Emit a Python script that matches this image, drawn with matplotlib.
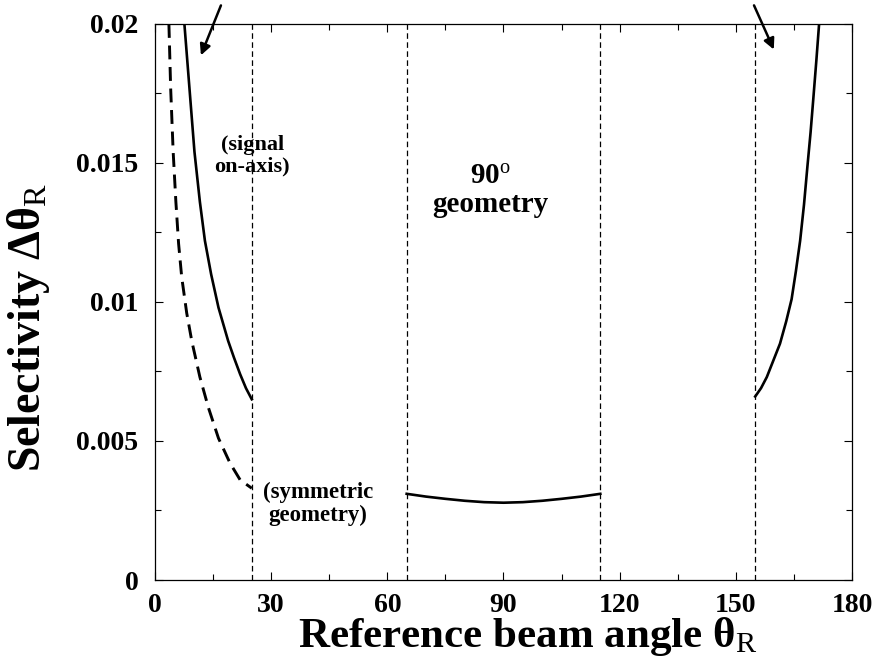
import matplotlib
matplotlib.use("Agg")
import matplotlib.pyplot as plt

plt.rcParams['font.family'] = ['Liberation Serif', 'DejaVu Serif']
plt.rcParams['font.weight'] = 'bold'
plt.rcParams['mathtext.fontset'] = 'custom'
plt.rcParams['mathtext.rm'] = 'Liberation Serif:weight=normal'
plt.rcParams['mathtext.it'] = 'Liberation Serif:italic:weight=normal'
plt.rcParams['mathtext.bf'] = 'Liberation Serif:bold'
plt.rcParams['lines.scale_dashes'] = False

# Signal on-axis geometry, low-angle branch
on_axis_x = [7.6, 8.9, 10.2, 11.6, 12.9, 14.5, 16.4, 18.9, 20.4, 22.0, 23.5, 25.0]
on_axis_y = [0.0200, 0.0177, 0.0154, 0.0136, 0.0122, 0.0110, 0.0098, 0.0086,
             0.0080, 0.0074, 0.0069, 0.0065]

# Symmetric geometry
symmetric_x = [3.6, 4.05, 4.7, 5.4, 6.1, 6.9, 8.2, 9.5, 11.6, 13.8, 16.4,
               19.4, 22.0, 25.0]
symmetric_y = [0.0200, 0.0177, 0.0154, 0.0136, 0.0121, 0.0109, 0.0096, 0.0086,
               0.0073, 0.0062, 0.0051, 0.0042, 0.0036, 0.0033]

# 90 degree geometry
ninety_x = [65, 70, 75, 80, 85, 90, 95, 100, 105, 110, 115]
ninety_y = [0.00310, 0.00300, 0.00292, 0.00285, 0.00280, 0.00278, 0.00280,
            0.00285, 0.00292, 0.00300, 0.00310]

# Signal on-axis geometry, high-angle branch
high_x = [155, 156.5, 158, 159.7, 161.4, 163.0, 164.4, 165.5, 166.6, 167.6,
          168.5, 169.3, 170.0, 170.8, 171.5]
high_y = [0.0066, 0.0069, 0.0073, 0.0079, 0.0085, 0.0093, 0.0101, 0.0111,
          0.0122, 0.0135, 0.0149, 0.0161, 0.0173, 0.0187, 0.0200]

# Region boundaries
boundaries = [25, 65, 115, 155]

x_ticks = [0, 30, 60, 90, 120, 150, 180]
y_ticks = [0, 0.005, 0.01, 0.015, 0.02]
y_tick_labels = ['0', '0.005', '0.01', '0.015', '0.02']

fig = plt.figure(figsize=(8.78, 6.64), dpi=100)
ax = fig.add_axes([0.1765, 0.1265, 0.7939, 0.8374])

ax.plot(on_axis_x, on_axis_y, color='black', lw=1.9, solid_joinstyle='round')
ax.plot(symmetric_x, symmetric_y, color='black', lw=2.1, dashes=(10, 5.5))
ax.plot(ninety_x, ninety_y, color='black', lw=1.9)
ax.plot(high_x, high_y, color='black', lw=1.9, solid_joinstyle='round')

for b in boundaries:
    ax.axvline(b, color='black', lw=0.9, dashes=(4, 2.5))

ax.set_xlim(0, 180)
ax.set_ylim(0, 0.02)
ax.set_xticks(x_ticks)
ax.set_xticks(range(15, 180, 30), minor=True)
ax.set_yticks(y_ticks)
ax.set_yticklabels(y_tick_labels)
ax.set_yticks([0.0025, 0.0075, 0.0125, 0.0175], minor=True)
ax.tick_params(which='both', direction='in', top=True, right=True, width=0.8)
ax.tick_params(which='major', length=6, labelsize=20, pad=9)
ax.tick_params(which='minor', length=4)
ax.tick_params(axis='y', which='major', pad=12)
for lab in ax.get_xticklabels() + ax.get_yticklabels():
    lab.set_fontweight('bold')
for s in ax.spines.values():
    s.set_linewidth(0.9)

ax.set_xlabel('Reference beam angle θ$_\\mathrm{R}$', fontsize=31, fontweight='bold')
ax.set_ylabel('Selectivity Δθ$_\\mathrm{R}$', fontsize=33, fontweight='bold')
ax.xaxis.label.set_va('center')
ax.yaxis.label.set_va('center')
ax.xaxis.set_label_coords(0.534, -0.102)
ax.yaxis.set_label_coords(-0.182, 0.455)

ax.text(25.1, 0.01525, '(signal\non-axis)', fontsize=16, fontweight='bold',
        ha='center', va='center', linespacing=1.1)
ax.text(42.1, 0.00273, '(symmetric\ngeometry)', fontsize=16.5, fontweight='bold',
        ha='center', va='center', linespacing=1.1)
ax.text(86.5, 0.0140, '90$^\\mathrm{o}$\ngeometry', fontsize=21, fontweight='bold',
        ha='center', va='center', linespacing=1.05)

arrow_kw = dict(arrowstyle='-|>', color='black', lw=1.8, mutation_scale=16)
ax.annotate('', xy=(11.6, 0.01878), xytext=(17.3, 0.02076),
            arrowprops=arrow_kw, annotation_clip=False)
ax.annotate('', xy=(160.1, 0.01899), xytext=(154.4, 0.02076),
            arrowprops=arrow_kw, annotation_clip=False)

fig.savefig('out.png', dpi=100)
